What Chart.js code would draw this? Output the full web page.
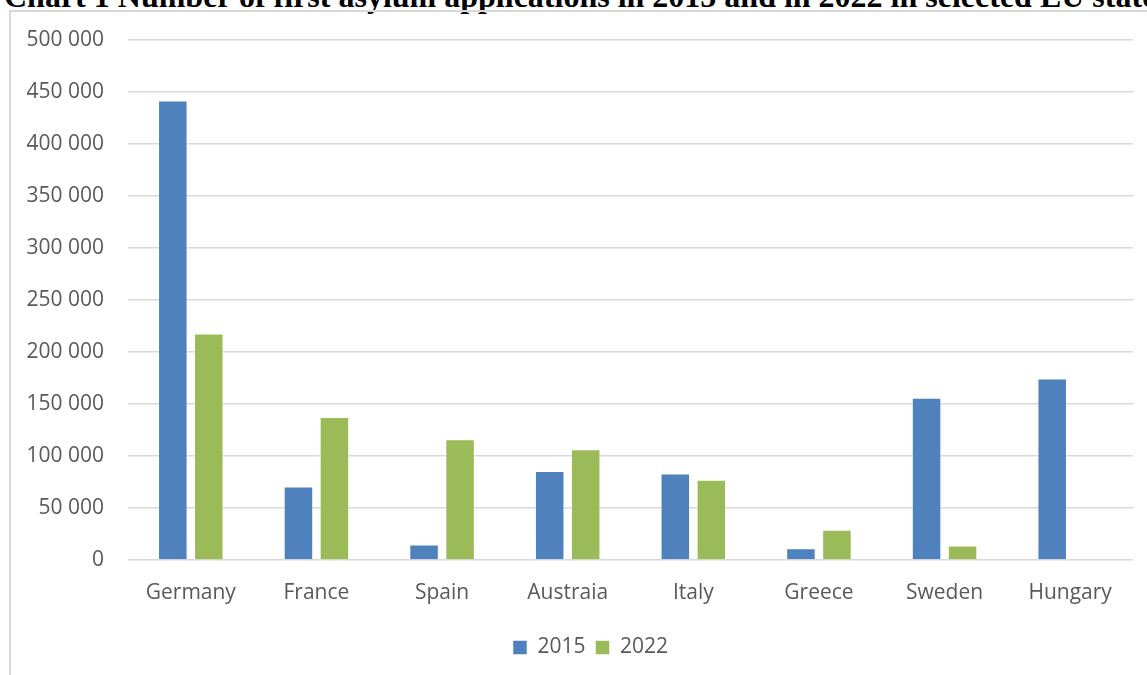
<!DOCTYPE html>
<html>
<head>
<meta charset="utf-8">
<title>First asylum applications 2015 and 2022</title>
<script src="https://cdn.jsdelivr.net/npm/chart.js@4.4.1/dist/chart.umd.min.js"></script>
<style>
    html, body {
        margin: 0;
        padding: 0;
        width: 1147px;
        height: 675px;
        overflow: hidden;
        background: #ffffff;
    }
    #chartTitle {
        position: absolute;
        left: 4px;
        top: -20px;
        font-family: "Liberation Serif", "Times New Roman", serif;
        font-weight: bold;
        font-size: 32px;
        line-height: 32px;
        white-space: nowrap;
        color: #000000;
    }
    #chartFrame {
        position: absolute;
        left: 9px;
        top: 10px;
        width: 1200px;
        height: 700px;
        border-left: 2px solid #d9d9d9;
        border-top: 2px solid #d9d9d9;
    }
    #chartWrap {
        position: absolute;
        left: 0;
        top: 0;
        width: 1180px;
        height: 675px;
    }
</style>
</head>
<body>
<div id="chartTitle">Chart 1 Number of first asylum applications in 2015 and in 2022 in selected EU states</div>
<div id="chartFrame"></div>
<div id="chartWrap"><canvas id="asylumChart"></canvas></div>
<script>
    // Countries and first-time applications per year
    const countries = ['Germany', 'France', 'Spain', 'Austraia', 'Italy', 'Greece', 'Sweden', 'Hungary'];
    const apps2015 = [441800, 70600, 14800, 85500, 83200, 11400, 156100, 174400];
    const apps2022 = [217700, 137500, 116100, 106400, 77200, 29100, 14000, 0];
    const yearLabels = ['2015', '2022'];
    const yTicks = [0, 50000, 100000, 150000, 200000, 250000, 300000, 350000, 400000, 450000, 500000];

    const textColor = '#595959';
    const gridColor = '#d9d9d9';
    const baseFont = { family: '"Open Sans", sans-serif', size: 21 };

    // 500000 -> "500 000"
    function spaced(v) {
        return String(v).replace(/\B(?=(\d{3})+(?!\d))/g, ' ');
    }

    // Centre the legend under the whole frame instead of the padded area
    const legendShift = {
        id: 'legendShift',
        afterLayout(chart) {
            const lg = chart.legend;
            if (!lg) return;
            lg.left += 24;
            lg.right += 24;
        }
    };

    document.addEventListener('DOMContentLoaded', function() {
        const ctx = document.getElementById('asylumChart').getContext('2d');
        new Chart(ctx, {
            type: 'bar',
            data: {
                labels: countries,
                datasets: [{
                    label: yearLabels[0],
                    data: apps2015,
                    backgroundColor: '#4f81bd',
                    borderColor: 'rgba(255, 255, 255, 0.5)',
                    borderWidth: 1,
                    categoryPercentage: 0.573,
                    barPercentage: 0.82
                }, {
                    label: yearLabels[1],
                    data: apps2022,
                    backgroundColor: '#9bbb59',
                    borderColor: 'rgba(255, 255, 255, 0.5)',
                    borderWidth: 1,
                    categoryPercentage: 0.573,
                    barPercentage: 0.82
                }]
            },
            options: {
                responsive: true,
                maintainAspectRatio: false,
                animation: false,
                layout: {
                    padding: { top: 40, right: 47, bottom: 7, left: 0 }
                },
                plugins: {
                    legend: {
                        position: 'bottom',
                        labels: {
                            color: textColor,
                            font: baseFont,
                            boxWidth: 14,
                            boxHeight: 14,
                            padding: 10
                        }
                    },
                    tooltip: { enabled: false }
                },
                scales: {
                    x: {
                        border: { display: false },
                        grid: { display: false, drawTicks: false },
                        ticks: {
                            color: textColor,
                            font: baseFont,
                            padding: 20,
                            maxRotation: 0
                        },
                        afterFit: function(scale) {
                            scale.height = 67;
                        }
                    },
                    y: {
                        min: 0,
                        max: yTicks[yTicks.length - 1],
                        border: { display: false },
                        grid: {
                            color: gridColor,
                            lineWidth: 1.5,
                            drawTicks: false
                        },
                        afterBuildTicks: function(scale) {
                            scale.ticks = yTicks.map(v => ({ value: v }));
                        },
                        ticks: {
                            color: textColor,
                            font: baseFont,
                            padding: 24,
                            callback: v => spaced(v)
                        },
                        afterFit: function(scale) {
                            scale.width = 128;
                        }
                    }
                }
            },
            plugins: [legendShift]
        });
    });
</script>
</body>
</html>
